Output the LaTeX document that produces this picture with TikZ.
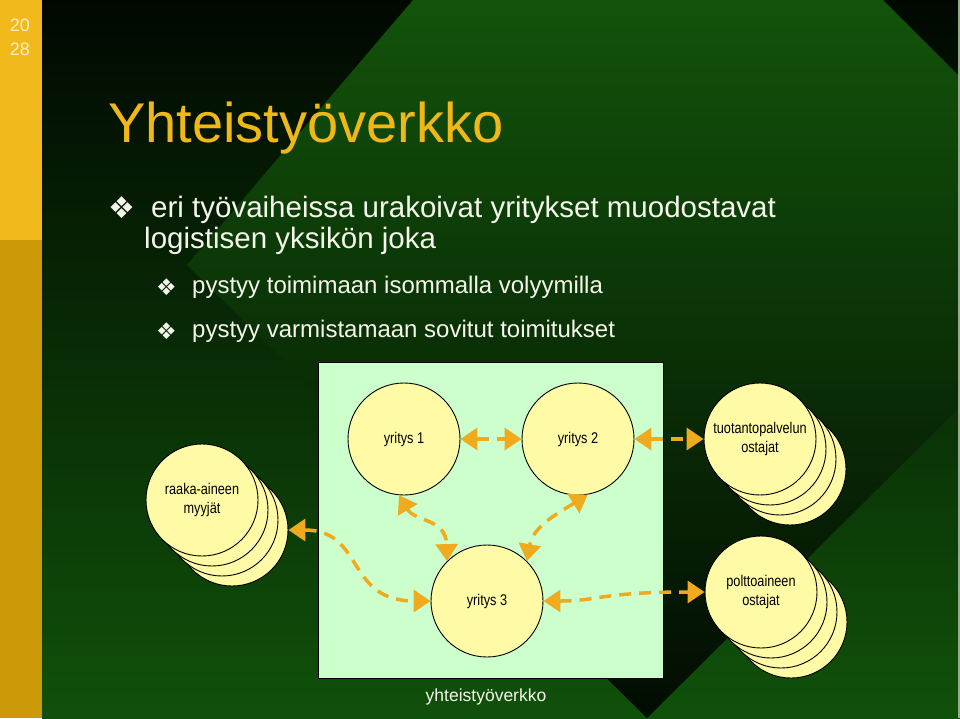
\documentclass[tikz,border=0pt]{standalone}
\usepackage{fontspec}
\setmainfont{Liberation Sans}
\newfontfamily\narrowfont[FakeStretch=0.82]{Liberation Sans}
\newfontfamily\dingfont{DejaVu Sans}
\usetikzlibrary{arrows.meta}

\definecolor{goldbar}{RGB}{241,185,28}
\definecolor{goldbardark}{RGB}{204,154,8}
\definecolor{titlegold}{RGB}{240,184,22}
\definecolor{nightgreen}{RGB}{1,8,1}
\definecolor{midgreen}{RGB}{12,66,8}
\definecolor{leafgreen}{RGB}{16,81,10}
\definecolor{diamondtop}{RGB}{18,83,10}
\definecolor{diamondmid}{RGB}{7,36,5}
\definecolor{diamondlow}{RGB}{2,12,2}
\definecolor{edgegrey}{RGB}{150,170,140}
\definecolor{boxgreen}{RGB}{204,255,204}
\definecolor{discyellow}{RGB}{255,250,165}
\definecolor{arrowgold}{RGB}{240,170,30}
\definecolor{paletext}{RGB}{245,245,235}
\definecolor{pagecream}{RGB}{255,240,200}

\tikzset{
  disc/.style={circle, draw=black, line width=0.9pt, fill=discyellow,
    minimum size=112pt, inner sep=0pt, align=center,
    font=\narrowfont\fontsize{15.5}{19}\selectfont},
  flow/.style={draw=arrowgold, line width=3.5pt, dash pattern=on 12pt off 8pt,
    {Triangle[length=17pt,width=22pt]}-{Triangle[length=17pt,width=22pt]}},
  bodytext/.style={anchor=base west, inner sep=0pt, text=paletext,
    font=\fontsize{29.5}{33}\selectfont},
  subtext/.style={anchor=base west, inner sep=0pt, text=paletext,
    font=\fontsize{24}{28}\selectfont},
  dingbig/.style={anchor=base west, inner sep=0pt, text=paletext,
    font=\dingfont\fontsize{30}{30}\selectfont},
  dingsmall/.style={anchor=base west, inner sep=0pt, text=paletext,
    font=\dingfont\fontsize{23}{23}\selectfont}
}

\begin{document}
\begin{tikzpicture}[x=1pt, y=-1pt]
        \useasboundingbox (0,0) rectangle (960,718);

        % Background: dark to green, with the big diamond on top
        \shade[top color=nightgreen, middle color=midgreen, bottom color=leafgreen]
            (42,0) rectangle (960,718);
        \shade[top color=diamondtop, middle color=diamondmid, bottom color=diamondlow]
            (413,0) -- (883,0) -- (960,77) -- (960,407) -- (647,718) -- (187,265) -- cycle;
        \draw[edgegrey, line width=1.5pt] (959.2,0) -- (959.2,718);

        % Gold strip with page number
        \fill[goldbar] (0,0) rectangle (42,240);
        \fill[goldbardark] (0,240) rectangle (42,718);
        \node[text=pagecream, font=\fontsize{18}{18}\selectfont] (pgtop) at (20,25) {20};
        \node[text=pagecream, font=\fontsize{18}{18}\selectfont] (pgbot) at (20,49) {28};

        % Title
        \node[anchor=base west, inner sep=0pt, text=titlegold, font=\fontsize{56}{60}\selectfont]
            (title) at (108,142) {Yhteistyöverkko};

        % Bullet list
        \node[dingbig] (dot1) at (108,218) {❖};
        \node[bodytext] (line1) at (151,217) {eri työvaiheissa urakoivat yritykset muodostavat};
        \node[bodytext] (line2) at (144,248) {logistisen yksikön joka};
        \node[dingsmall] (dot2) at (156,295) {❖};
        \node[subtext] (line3) at (192,293) {pystyy toimimaan isommalla volyymilla};
        \node[dingsmall] (dot3) at (156,339) {❖};
        \node[subtext] (line4) at (192,337) {pystyy varmistamaan sovitut toimitukset};

        % The network box
        \node[draw=black, line width=0.8pt, fill=boxgreen, anchor=north west, inner sep=0pt,
            minimum width=345pt, minimum height=316pt] (net) at (318,362) {};
        \node[text=paletext, font=\fontsize{17.5}{20}\selectfont] (netlabel) at (486,697) {yhteistyöverkko};

        % Firms inside the network
        \node[disc] (y1) at (404,439) {yritys 1};
        \node[disc] (y2) at (578,439) {yritys 2};
        \node[disc] (y3) at (487,601) {yritys 3};

        % Stacks of outside partners
        \foreach \i in {3,2,1} {
            \node[disc] (r\i) at ({202+10*\i},{500+10*\i}) {};
            \node[disc] (t\i) at ({760+10*\i},{439+10*\i}) {};
            \node[disc] (p\i) at ({761+10*\i},{592+10*\i}) {};
        }
        \node[disc] (r0) at (202,500) {raaka-aineen\\myyjät};
        \node[disc] (t0) at (760,439) {tuotantopalvelun\\ostajat};
        \node[disc] (p0) at (761,592) {polttoaineen\\ostajat};

        % Flows
        \draw[flow] (y1.east) -- (y2.west);
        \draw[flow] (y2.east) -- (t0.west);
        \draw[flow] (y1.265) .. controls (415,522) and (446,518) .. (y3.135);
        \draw[flow] (y2.280) .. controls (560,512) and (533,526) .. (y3.45);
        \draw[flow] (r3.east) .. controls (365,530) and (345,601) .. (y3.west);
        \draw[flow] (y3.east) .. controls (600,601) and (600,592) .. (p0.west);
    \end{tikzpicture}
\end{document}
